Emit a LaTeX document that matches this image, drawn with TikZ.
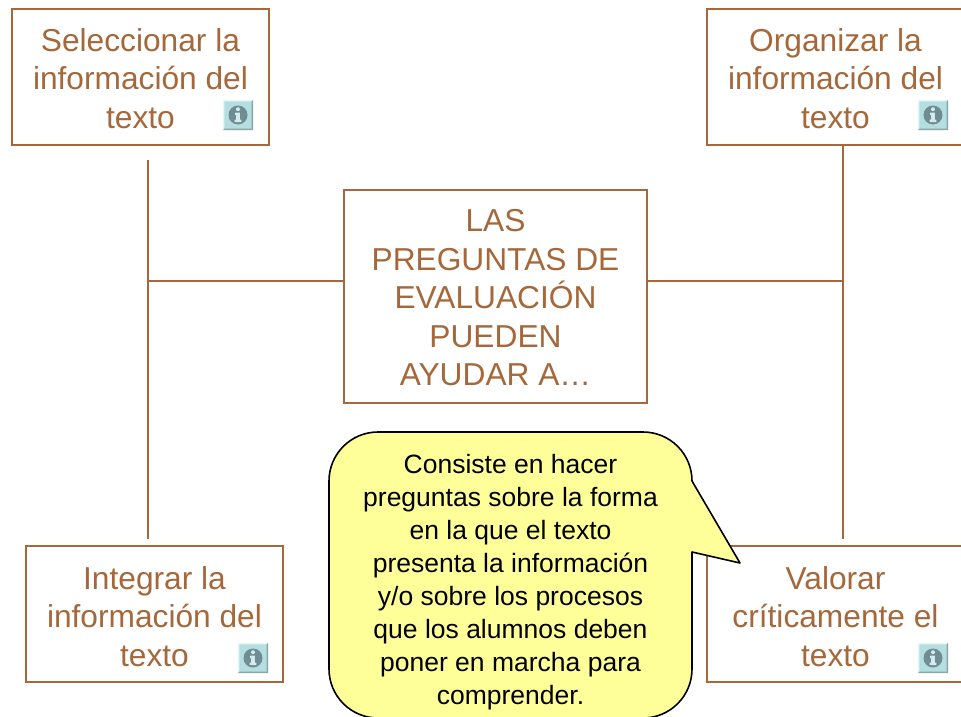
\documentclass[tikz,border=0pt]{standalone}
\usepackage{fontspec}
\setmainfont{Liberation Sans}
\definecolor{brownc}{HTML}{A5683A}
\definecolor{iconbg}{HTML}{B5DEE0}
\definecolor{icondk}{HTML}{6F8C93}
\definecolor{noteY}{HTML}{FFFF99}
\tikzset{
  px/.style={x=1pt,y=-1pt},
  mainbox/.style={draw=brownc,line width=1.8pt,fill=white,inner sep=0pt,minimum width=257pt,minimum height=136pt},
  maintext/.style={text=brownc,font=\fontsize{31.7pt}{38.5pt}\selectfont,align=center,inner sep=0pt},
  conn/.style={draw=brownc,line width=2pt},
  iconbox/.style={fill=iconbg,draw=none,minimum width=30pt,minimum height=30pt,inner sep=0pt},
  notetext/.style={text=black,font=\fontsize{26.5pt}{33pt}\selectfont,align=center,inner sep=0pt}
}
\newcommand{\infoicon}[2]{%
  \node[iconbox] (#2) at (#1) {};
  \fill[white!70!iconbg] (#2.south west) -- (#2.north west) -- (#2.north east) -- ++(-1.5,1.5) -- ([shift={(1.5,1.5)}]#2.north west) -- ([shift={(1.5,-1.5)}]#2.south west) -- cycle;
  \fill[black!25!iconbg] (#2.south west) -- (#2.south east) -- (#2.north east) -- ++(-1.5,1.5) -- ([shift={(-1.5,-1.5)}]#2.south east) -- ([shift={(1.5,-1.5)}]#2.south west) -- cycle;
  \fill[icondk] (#2.center) circle[radius=9.5pt];
  \fill[iconbg!60!white] ([shift={(0,-5.8)}]#2.center) circle[radius=2pt];
  \fill[iconbg!60!white] ([shift={(-3,-2.4)}]#2.center) -- ([shift={(1.8,-2.4)}]#2.center) -- ([shift={(1.8,4.6)}]#2.center) -- ([shift={(3.3,4.6)}]#2.center) -- ([shift={(3.3,7)}]#2.center) -- ([shift={(-3.3,7)}]#2.center) -- ([shift={(-3.3,4.6)}]#2.center) -- ([shift={(-1.8,4.6)}]#2.center) -- ([shift={(-1.8,-.2)}]#2.center) -- ([shift={(-3,-.2)}]#2.center) -- cycle;
}
\begin{document}
\begin{tikzpicture}[px]
\useasboundingbox (0,0) rectangle (961,717);
\clip (0,0) rectangle (961,717);
% junctions and free ends
\coordinate (jl) at (147.5,281);
\coordinate (jr) at (842.5,281);
\coordinate (tl) at (147.5,160);
\coordinate (tr) at (842.5,145);
\coordinate (bl) at (147.5,539);
\coordinate (br) at (842.5,539);
% boxes
\node[mainbox] (sel) at (140.5,77) {};
\node[mainbox] (org) at (835.5,77) {};
\node[mainbox] (int) at (154.5,614) {};
\node[mainbox] (val) at (835.5,614) {};
\node[mainbox,minimum width=303pt,minimum height=213pt] (cen) at (495.5,296.5) {};
% connectors
\draw[conn] (tl) -- (bl);
\draw[conn] (tr) -- (br);
\draw[conn] (jl) -- (cen.west |- jl);
\draw[conn] (jr) -- (cen.east |- jr);
% texts
\node[maintext] (selt) at (140.5,78.5) {Seleccionar la\\información del\\texto};
\node[maintext] (orgt) at (835.5,78.5) {Organizar la\\información del\\texto};
\node[maintext] (intt) at (154.5,616.5) {Integrar la\\información del\\texto};
\node[maintext] (valt) at (835.5,616.5) {Valorar\\críticamente el\\texto};
\node[maintext] (cent) at (495.5,298) {LAS\\PREGUNTAS DE\\EVALUACIÓN\\PUEDEN\\AYUDAR A…};
% icons
\infoicon{238,115}{i1}
\infoicon{933,115}{i2}
\infoicon{253,658}{i3}
\infoicon{933,658}{i4}
% callout
\draw[fill=noteY,draw=black,line width=1.6pt,line join=round]
  (378,432) -- (643,432) arc[start angle=-90,end angle=0,radius=49]
  -- (740,563) -- (692,552) -- (692,669)
  arc[start angle=0,end angle=90,radius=49] -- (378,718)
  arc[start angle=90,end angle=180,radius=49] -- (329,481)
  arc[start angle=180,end angle=270,radius=49] -- cycle;
\node[notetext] (note) at (510.5,582) {Consiste en hacer\\preguntas sobre la forma\\en la que el texto\\presenta la información\\y/o sobre los procesos\\que los alumnos deben\\poner en marcha para\\comprender.};
\end{tikzpicture}
\end{document}
